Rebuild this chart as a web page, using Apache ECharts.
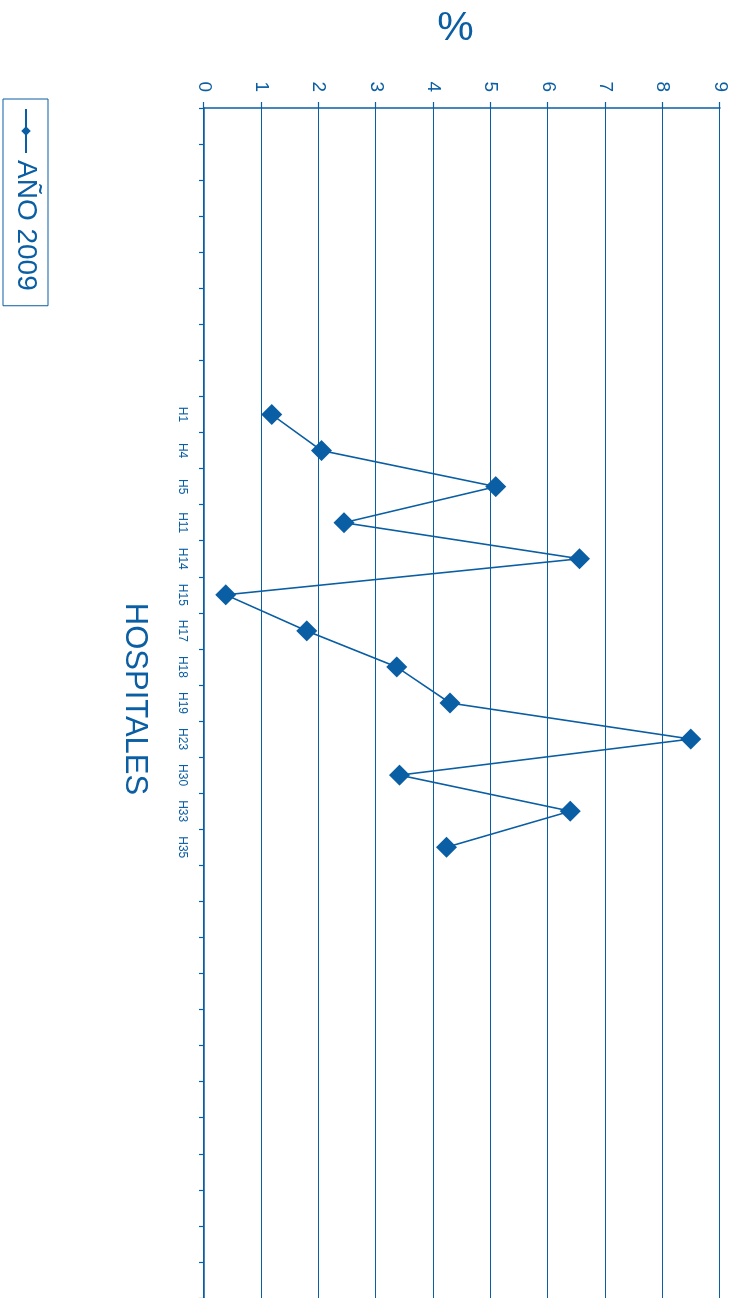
<!DOCTYPE html>
<html>
<head>
<meta charset="utf-8">
<title>Hospitales - Año 2009</title>
<script src="https://cdn.jsdelivr.net/npm/echarts@6/dist/echarts.min.js"></script>
<style>
  html, body { margin: 0; padding: 0; overflow: hidden; background: #ffffff; width: 737px; height: 1298px; }
  /* The chart is laid out landscape and turned a quarter turn clockwise on the page */
  #chart {
    position: absolute; left: 0; top: 0;
    width: 1298px; height: 737px;
    transform-origin: 0 0;
    transform: translate(737px, 0) rotate(90deg);
  }
</style>
</head>
<body>
<div id="chart"></div>
<script>
// Hospitals with a reported value
const hospitals = ['H1', 'H4', 'H5', 'H11', 'H14', 'H15', 'H17', 'H18', 'H19', 'H23', 'H30', 'H33', 'H35'];
// Percentage per hospital, year 2009
const pct2009 = [1.18, 2.05, 5.09, 2.44, 6.55, 0.38, 1.79, 3.36, 4.29, 8.49, 3.41, 6.39, 4.23];
// Empty category slots on either side of the hospitals
const emptyBefore = 8;
const emptyAfter = 12;
// Value axis ticks
const pctTicks = { min: 0, max: 9, step: 1 };

const BLUE = '#0a5ea3';
const FONT = '"Liberation Sans", Arial, sans-serif';

const categories = [
  ...Array(emptyBefore).fill(''),
  ...hospitals,
  ...Array(emptyAfter).fill('')
];
const values = [
  ...Array(emptyBefore).fill(null),
  ...pct2009,
  ...Array(emptyAfter).fill(null)
];

const chart = echarts.init(document.getElementById('chart'), null, { renderer: 'canvas' });

chart.setOption({
  animation: false,
  backgroundColor: '#ffffff',
  textStyle: { fontFamily: FONT, color: BLUE },
  grid: { left: 106, right: 0, top: 17, bottom: 204, containLabel: false },
  legend: {
    data: ['AÑO 2009'],
    left: 99,
    top: 689,
    orient: 'horizontal',
    padding: [8, 15, 9, 9],
    borderColor: BLUE,
    borderWidth: 1,
    itemWidth: 44,
    itemHeight: 12,
    itemGap: 5,
    textStyle: { fontFamily: FONT, fontSize: 28, color: BLUE, padding: [0, 0, 0, 2] }
  },
  xAxis: {
    type: 'category',
    data: categories,
    boundaryGap: true,
    name: 'HOSPITALES',
    nameLocation: 'middle',
    nameGap: 54,
    nameTextStyle: { fontFamily: FONT, fontSize: 31, color: BLUE, padding: [0, 8, 0, 0] },
    axisLine: { show: true, lineStyle: { color: BLUE, width: 1.5 } },
    axisTick: { show: true, interval: 0, length: 5, lineStyle: { color: BLUE, width: 1.2 } },
    axisLabel: { interval: 0, margin: 16, fontFamily: FONT, fontSize: 12, color: BLUE },
    splitLine: { show: false }
  },
  yAxis: {
    type: 'value',
    min: pctTicks.min,
    max: pctTicks.max,
    interval: pctTicks.step,
    name: '%',
    nameLocation: 'middle',
    nameRotate: 90,
    nameGap: 59,
    nameTextStyle: { fontFamily: FONT, fontSize: 41, color: BLUE, padding: [0, 13, 0, 0] },
    axisLine: { show: true, lineStyle: { color: BLUE, width: 1.5 } },
    axisTick: { show: true, length: 6, lineStyle: { color: BLUE, width: 1.2 } },
    axisLabel: { margin: 16, fontFamily: FONT, fontSize: 19, color: BLUE },
    splitLine: { show: true, lineStyle: { color: BLUE, width: 1.2 } }
  },
  series: [{
    name: 'AÑO 2009',
    type: 'line',
    data: values,
    connectNulls: false,
    symbol: 'diamond',
    symbolSize: 21,
    showAllSymbol: true,
    lineStyle: { color: BLUE, width: 1.6 },
    itemStyle: { color: BLUE, borderWidth: 0 }
  }]
});
</script>
</body>
</html>
